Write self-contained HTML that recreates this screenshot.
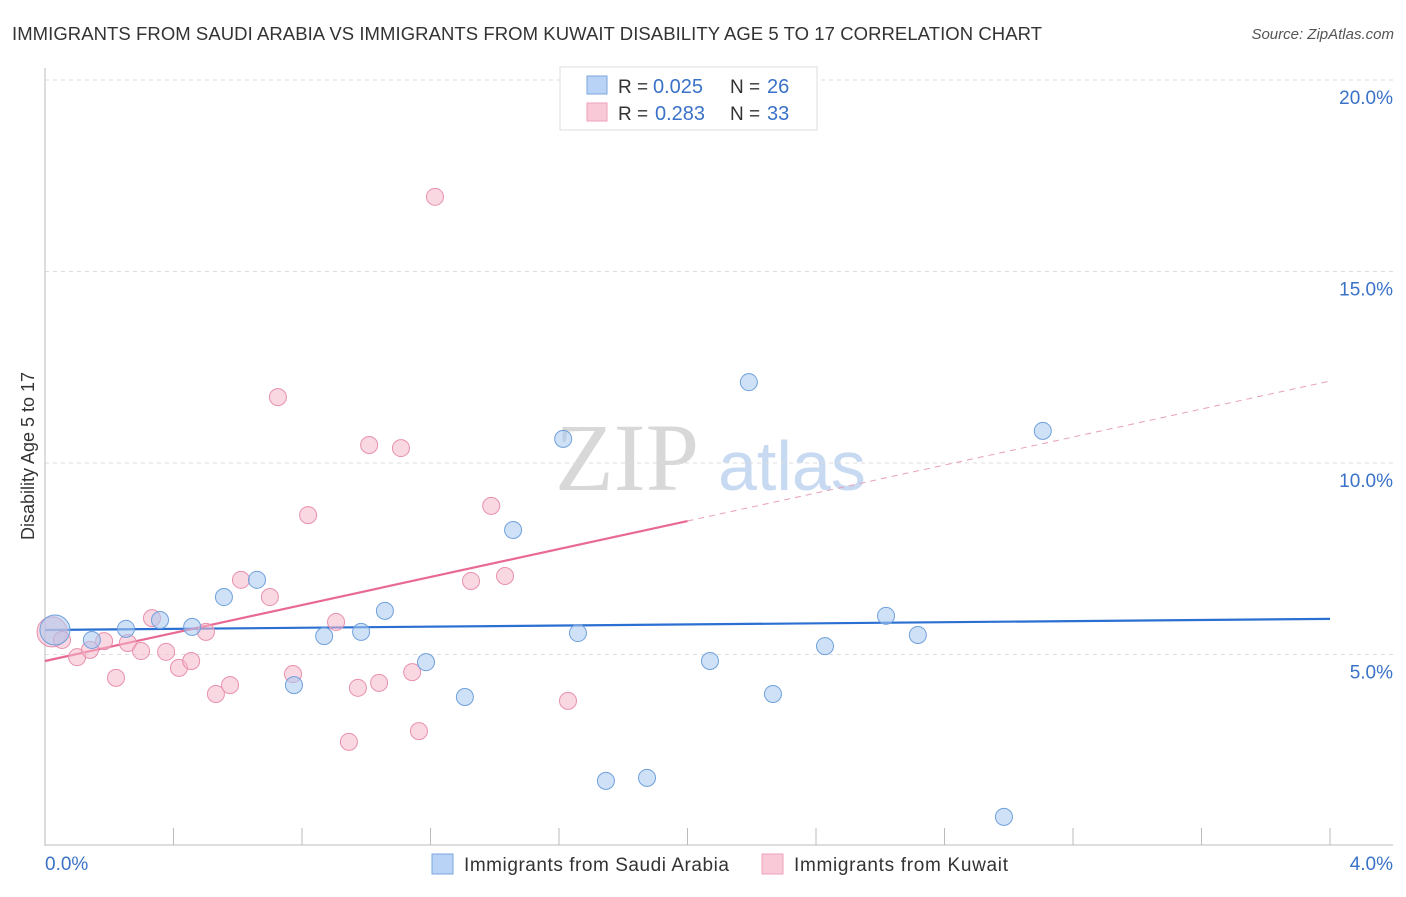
<!DOCTYPE html>
<html><head><meta charset="utf-8"><style>
body{margin:0;background:#fff;font-family:"Liberation Sans",sans-serif;}
svg text{font-family:"Liberation Sans",sans-serif;}
</style></head><body>
<svg width="1406" height="892" xmlns="http://www.w3.org/2000/svg">
<text x="12" y="40" font-size="18.5" fill="#333" textLength="1030">IMMIGRANTS FROM SAUDI ARABIA VS IMMIGRANTS FROM KUWAIT DISABILITY AGE 5 TO 17 CORRELATION CHART</text>
<text x="1394" y="39" font-size="15" fill="#555" text-anchor="end" font-style="italic">Source: ZipAtlas.com</text>
<text x="555" y="490" font-size="96" fill="#d8d8d8" style="font-family:'Liberation Serif',serif">ZIP</text>
<text x="718" y="490" font-size="70" fill="#c8daf2">atlas</text>
<g id="grid"></g>
<g id="axes"></g>
<text transform="translate(34,456) rotate(-90)" font-size="18" fill="#333" text-anchor="middle">Disability Age 5 to 17</text>
<g id="lines"></g>
<g id="points"></g>
<g>
<rect x="560" y="67" width="257" height="63" fill="#fff" stroke="#ddd"/>
<rect x="587" y="76" width="20" height="18" fill="#b8d3f5" stroke="#7aa6dd"/>
<rect x="587" y="103" width="20" height="18" fill="#f9c9d8" stroke="#eea0ba"/>
<text x="618" y="93" font-size="19" fill="#333">R =</text>
<text x="653" y="93" font-size="20" fill="#3a72c8">0.025</text>
<text x="730" y="93" font-size="19" fill="#333">N =</text>
<text x="767" y="93" font-size="20" fill="#3a72c8">26</text>
<text x="618" y="120" font-size="19" fill="#333">R =</text>
<text x="655" y="120" font-size="20" fill="#3a72c8">0.283</text>
<text x="730" y="120" font-size="19" fill="#333">N =</text>
<text x="767" y="120" font-size="20" fill="#3a72c8">33</text>
</g>
<g>
<rect x="432" y="854" width="21" height="20" fill="#b8d3f5" stroke="#7aa6dd"/>
<text x="464" y="871" font-size="19" fill="#333" textLength="265">Immigrants from Saudi Arabia</text>
<rect x="762" y="854" width="21" height="20" fill="#f9c9d8" stroke="#eea0ba"/>
<text x="794" y="871" font-size="19" fill="#333" textLength="214">Immigrants from Kuwait</text>
</g>
</svg>
<script>
const yTicks=[5,10,15,20];
const yTickLabels=["5.0%","10.0%","15.0%","20.0%"];
const saudiX=[0.031,0.146,0.252,0.358,0.458,0.557,0.660,0.775,0.869,0.984,1.058,1.186,1.307,1.457,1.613,1.659,1.746,1.874,2.070,2.191,2.266,2.428,2.618,2.717,2.985,3.106];
const saudiY=[5.64,5.38,5.67,5.90,5.72,6.50,6.95,4.20,5.48,5.59,6.14,4.80,3.89,8.25,10.63,5.56,1.70,1.78,4.83,12.11,3.97,5.22,6.01,5.51,0.76,10.84];
const kuwaitX=[0.022,0.053,0.100,0.140,0.184,0.221,0.258,0.299,0.333,0.377,0.417,0.455,0.501,0.532,0.576,0.610,0.700,0.725,0.772,0.819,0.906,0.946,0.974,1.009,1.040,1.108,1.143,1.164,1.214,1.326,1.389,1.432,1.628];
const kuwaitY=[5.59,5.38,4.93,5.12,5.35,4.39,5.30,5.09,5.95,5.07,4.65,4.83,5.59,3.97,4.20,6.95,6.50,11.72,4.49,8.64,5.85,2.72,4.13,10.47,4.26,10.39,4.54,3.00,16.95,6.92,8.88,7.05,3.79];
const saudiTrend=[5.64,5.93];
const kuwaitTrend=[4.83,12.14];
const NS="http://www.w3.org/2000/svg";
const xs=v=>45+v/4*1285;
const ys=v=>846-v*38.3;
function mk(t,a,p){const e=document.createElementNS(NS,t);for(const k in a)e.setAttribute(k,a[k]);p.appendChild(e);return e;}
const grid=document.getElementById('grid'),axes=document.getElementById('axes');
yTicks.forEach((t,i)=>{
 const l=mk('line',{x1:45,x2:1393,y1:ys(t),y2:ys(t),stroke:'#ddd','stroke-dasharray':'4,4'},grid);
 
 
 const tx=mk('text',{x:1393,y:ys(t)+24,'font-size':19,fill:'#3a72c8','text-anchor':'end'},axes);
 tx.textContent=yTickLabels[i];
 
 
});
let al=mk('line',{x1:45,x2:45,y1:68,y2:846,stroke:'#bbb'},axes);


al=mk('line',{x1:45,x2:1393,y1:845,y2:845,stroke:'#bbb'},axes);


for(let i=0;i<=10;i++){const v=i*0.4;const t=mk('line',{x1:xs(v),x2:xs(v),y1:828,y2:845,stroke:'#bbb'},axes);
 
 }
[[0,"0.0%",'start',45],[4,"4.0%",'end',1393]].forEach(d=>{const t=mk('text',{x:d[3],y:870,'font-size':19,fill:'#3a72c8','text-anchor':d[2]},axes);t.textContent=d[1];
 
 });
const lines=document.getElementById('lines');
let ln=mk('line',{x1:xs(0),y1:ys(saudiTrend[0]),x2:xs(4),y2:ys(saudiTrend[1]),stroke:'#2a6fd1','stroke-width':2.2},lines);


const kAt=v=>kuwaitTrend[0]+(kuwaitTrend[1]-kuwaitTrend[0])*v/4;
ln=mk('line',{x1:xs(0),y1:ys(kAt(0)),x2:xs(2),y2:ys(kAt(2)),stroke:'#e86a94','stroke-width':2.2},lines);


ln=mk('line',{x1:xs(2),y1:ys(kAt(2)),x2:xs(4),y2:ys(kAt(4)),stroke:'#e8a0b8','stroke-width':1,'stroke-dasharray':'6,5'},lines);


const pts=document.getElementById('points');
kuwaitX.forEach((x,i)=>{const c=mk('circle',{cx:xs(x),cy:ys(kuwaitY[i]),r:i==0?15:8.5,fill:'rgba(245,184,203,0.55)',stroke:'#e890ae','stroke-width':1},pts);
 
 });
saudiX.forEach((x,i)=>{const c=mk('circle',{cx:xs(x),cy:ys(saudiY[i]),r:i==0?15:8.5,fill:'rgba(168,200,240,0.55)',stroke:'#6fa0dc','stroke-width':1},pts);
 
 });
</script>
</body></html>
